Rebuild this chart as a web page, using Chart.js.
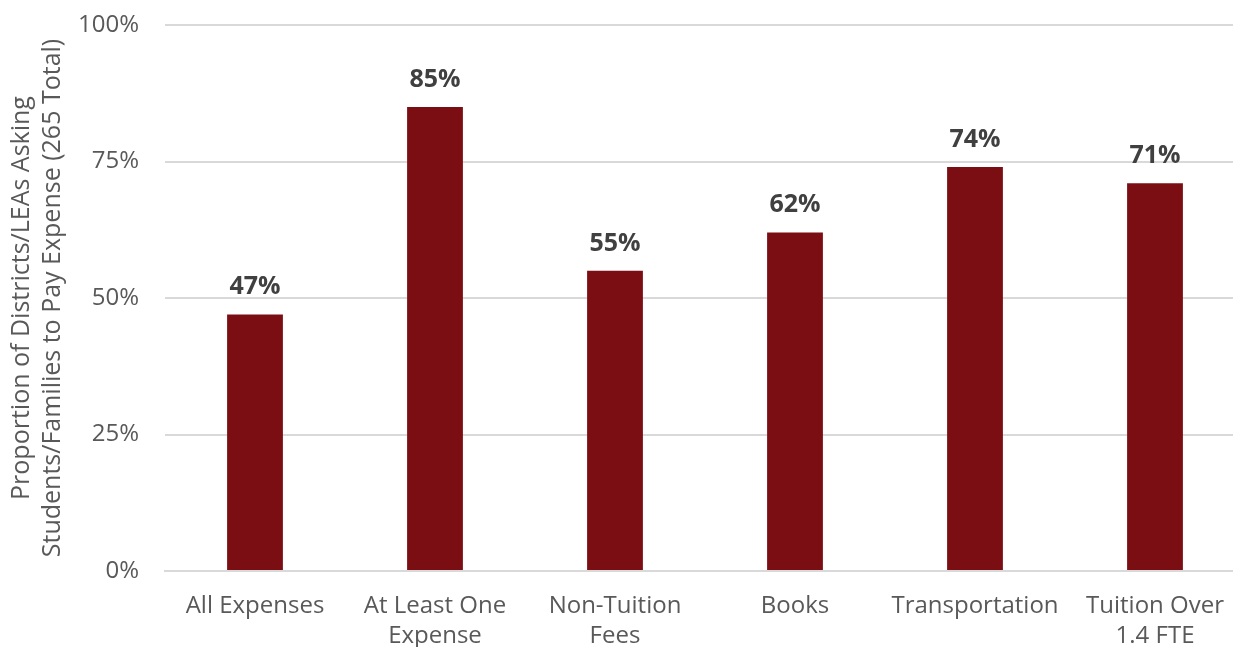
<!DOCTYPE html>
<html>
<head>
<meta charset="utf-8">
<script src="https://cdn.jsdelivr.net/npm/chart.js@4"></script>
<style>
  html, body { margin: 0; padding: 0; background: #fff; overflow: hidden; }
  #wrap { width: 1233px; height: 647px; overflow: hidden; }
</style>
</head>
<body>
<div id="wrap"><canvas id="id_canv" width="1250" height="647"></canvas></div>
<script>
// chart values
const categories = [
  ['All Expenses'],
  ['At Least One', 'Expense'],
  ['Non-Tuition', 'Fees'],
  ['Books'],
  ['Transportation'],
  ['Tuition Over', '1.4 FTE']
]
const percentValues = [47, 85, 55, 62, 74, 71]
const yTicks = [0, 25, 50, 75, 100]
const yTitle = ['Proportion of Districts/LEAs Asking', 'Students/Families to Pay Expense (265 Total)']

const fontName = '"Open Sans", "Liberation Sans", sans-serif'

/* Puts the bold percent value above every bar */
const barLabels = {
  id: 'barLabels',
  afterDatasetsDraw(chart) {
    let c = chart.ctx
    let meta = chart.getDatasetMeta(0)
    c.save()
    c.font = 'bold 25px ' + fontName
    c.fillStyle = '#404040'
    c.textAlign = 'center'
    c.textBaseline = 'alphabetic'
    meta.data.forEach((bar, i) => {
      c.fillText(percentValues[i] + '%', bar.x, bar.y - 20)
    })
    c.restore()
  }
}

new Chart(document.getElementById('id_canv'), {
  type: 'bar',
  data: {
    labels: categories,
    datasets: [{
      data: percentValues,
      backgroundColor: '#7B0E12',
      categoryPercentage: 1,
      barPercentage: 0.31
    }]
  },
  options: {
    responsive: false,
    animation: false,
    layout: { padding: { left: 6, top: 25, right: 5, bottom: 0 } },
    plugins: { legend: { display: false }, tooltip: { enabled: false } },
    scales: {
      x: {
        grid: { display: false, drawTicks: false },
        border: { color: '#d9d9d9', width: 2 },
        afterFit(scale) {
          scale.height = 76
          scale.paddingLeft = 0
          scale.paddingRight = 0
        },
        ticks: {
          color: '#595959',
          font: { family: fontName, size: 24, lineHeight: 1.25 },
          padding: 20,
          maxRotation: 0,
          autoSkip: false
        }
      },
      y: {
        min: 0,
        max: 100,
        afterBuildTicks(scale) {
          scale.ticks = yTicks.map(v => ({ value: v }))
        },
        afterFit(scale) {
          scale.width = 159
          scale.paddingTop = 0
          scale.paddingBottom = 0
        },
        grid: { color: '#d9d9d9', lineWidth: 2, drawTicks: false },
        border: { display: false },
        ticks: {
          color: '#595959',
          font: { family: fontName, size: 24 },
          padding: 26,
          callback: v => v + '%'
        },
        title: {
          display: true,
          text: yTitle,
          color: '#595959',
          font: { family: fontName, size: 25, lineHeight: 1.25 },
          padding: { top: 0, bottom: 4 }
        }
      }
    }
  },
  plugins: [barLabels]
})
</script>
</body>
</html>
